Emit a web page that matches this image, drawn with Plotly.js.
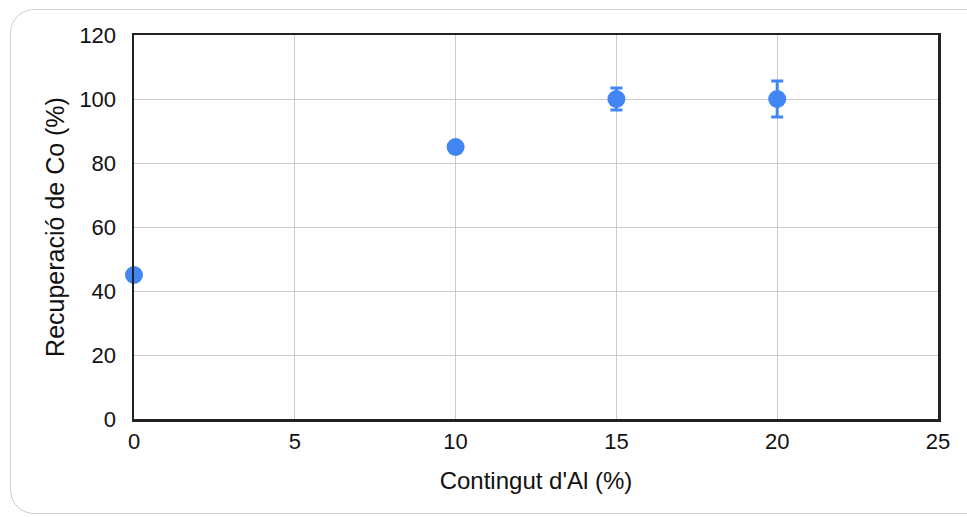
<!DOCTYPE html>
<html>
<head>
<meta charset="utf-8">
<script src="https://cdn.plot.ly/plotly-3.0.1.min.js"></script>
<style>
html,body{margin:0;padding:0;background:#fff;}
#wrap{position:relative;width:967px;height:517px;}
#chart{position:absolute;left:0;top:0;width:967px;height:517px;}
#frame{position:absolute;left:10px;top:9px;width:980px;height:505px;border:1px solid #cfcfcf;border-radius:24px;pointer-events:none;box-sizing:border-box;}
</style>
</head>
<body>
<div id="wrap">
<div id="chart"></div>
<div id="frame"></div>
</div>
<script>
const alContent = [0, 10, 15, 20];
const coRecovery = [45, 85, 100, 100];
const errors = [0, 0, 3.4, 5.6];
const xTicks = [0, 5, 10, 15, 20, 25];
const yTicks = [0, 20, 40, 60, 80, 100, 120];

const trace = {
  x: alContent,
  y: coRecovery,
  mode: 'markers',
  type: 'scatter',
  marker: {color: '#4285F4', size: 18},
  error_y: {type: 'data', array: errors, visible: true, color: '#4285F4', thickness: 3, width: 6},
  cliponaxis: false,
  showlegend: false
};

const fam = 'Liberation Sans, Arial, sans-serif';
const tickFont = {family: fam, size: 22, color: '#111'};

const layout = {
  width: 967, height: 517,
  margin: {l: 134, r: 29, t: 35, b: 98},
  paper_bgcolor: 'rgba(0,0,0,0)',
  plot_bgcolor: '#fff',
  font: tickFont,
  xaxis: {
    range: [0, 25], tickvals: xTicks, ticktext: xTicks.map(String),
    showgrid: true, gridcolor: '#cccccc', gridwidth: 1,
    zeroline: false, showline: true, mirror: true, linecolor: '#222', linewidth: 2.5,
    ticks: '', ticklabelstandoff: 1,
    tickfont: tickFont,
    title: {text: "Contingut d'Al (%)", font: {family: fam, size: 24, color: '#111'}, standoff: 20}
  },
  yaxis: {
    range: [0, 120], tickvals: yTicks, ticktext: yTicks.map(String),
    showgrid: true, gridcolor: '#cccccc', gridwidth: 1,
    zeroline: false, showline: true, mirror: true, linecolor: '#222', linewidth: 2.5,
    ticks: '', ticklabelstandoff: 11,
    tickfont: tickFont,
    title: {text: 'Recuperació de Co (%)', font: {family: fam, size: 25, color: '#111'}, standoff: 8}
  }
};

Plotly.newPlot('chart', [trace], layout, {displayModeBar: false, staticPlot: true});
</script>
</body>
</html>
